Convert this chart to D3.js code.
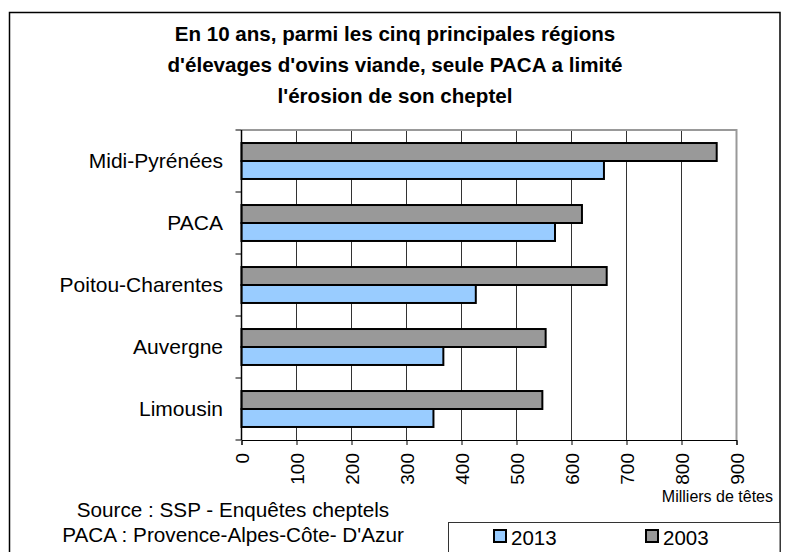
<!DOCTYPE html>
<html>
<head>
<meta charset="utf-8">
<script src="https://cdn.jsdelivr.net/npm/d3@7"></script>
<style>
  html, body { margin: 0; padding: 0; background: #fff; }
  svg { display: block; font-family: 'Liberation Sans', Arial, sans-serif; }
</style>
</head>
<body>
<div id="chart"></div>
<script>
// données (milliers de têtes)
const regions = ['Midi-Pyrénées', 'PACA', 'Poitou-Charentes', 'Auvergne', 'Limousin']
const years = ['2003', '2013']
const values2003 = [864, 619, 664, 553, 547]
const values2013 = [659, 570, 426, 367, 349]
const xTicks = [0, 100, 200, 300, 400, 500, 600, 700, 800, 900]
const titleLines = [
  'En 10 ans, parmi les cinq principales régions',
  "d'élevages d'ovins viande, seule PACA a limité",
  "l'érosion de son cheptel"
]
const sourceLines = ['Source : SSP - Enquêtes cheptels', "PACA : Provence-Alpes-Côte- D'Azur"]
const legendYears = ['2013', '2003']
const unitLabel = 'Milliers de têtes'

const colors = { '2003': '#999999', '2013': '#99ccff' }

const width = 787
const height = 552
const plot = { left: 241.5, right: 736.5, top: 130, bottom: 440 }

const svg = d3.select('#chart')
  .append('svg')
    .attr('width', width)
    .attr('height', height)

// cadre extérieur
svg.append('rect')
  .attr('x', 9.5)
  .attr('y', 12.5)
  .attr('width', 770.5)
  .attr('height', 560)
  .attr('fill', 'none')
  .attr('stroke', '#000')
  .attr('stroke-width', 1.5)

// titre
svg.append('g')
  .selectAll('text')
  .data(titleLines)
  .join('text')
    .attr('x', 395)
    .attr('y', (d, i) => 41 + i * 31)
    .attr('text-anchor', 'middle')
    .attr('font-size', 20.6)
    .attr('font-weight', 'bold')
    .attr('fill', '#000')
    .text(d => d)

// échelles
const x = d3.scaleLinear()
  .domain([0, 900])
  .range([plot.left, plot.right])

const y0 = d3.scaleBand()
  .domain(regions)
  .range([plot.top, plot.bottom])
  .paddingInner(0.42)
  .paddingOuter(0.21)

const y1 = d3.scaleBand()
  .domain(years)
  .range([0, y0.bandwidth()])

// lignes de quadrillage verticales
svg.append('g')
  .selectAll('line')
  .data(xTicks.slice(1, -1))
  .join('line')
    .attr('x1', d => x(d))
    .attr('x2', d => x(d))
    .attr('y1', plot.top)
    .attr('y2', plot.bottom)
    .attr('stroke', '#333')
    .attr('stroke-width', 1)

// bordure haut / droite de la zone de tracé
svg.append('path')
  .attr('d', `M${plot.left},${plot.top}H${plot.right}V${plot.bottom}`)
  .attr('fill', 'none')
  .attr('stroke', '#999')
  .attr('stroke-width', 2)

// barres
const rows = regions.map((r, i) => ({ region: r, '2003': values2003[i], '2013': values2013[i] }))
const groups = svg.append('g')
  .selectAll('g')
  .data(rows)
  .join('g')
    .attr('transform', d => `translate(0,${y0(d.region)})`)

groups.selectAll('rect')
  .data(d => years.map(k => ({ key: k, value: d[k] })))
  .join('rect')
    .attr('x', x(0))
    .attr('y', d => y1(d.key))
    .attr('width', d => x(d.value) - x(0))
    .attr('height', y1.bandwidth())
    .attr('fill', d => colors[d.key])
    .attr('stroke', '#000')
    .attr('stroke-width', 2)

// axe horizontal
const xAxis = d3.axisBottom(x)
  .tickValues(xTicks)
  .tickSize(5)
  .tickFormat(d3.format('d'))

const gx = svg.append('g')
  .attr('transform', `translate(0,${plot.bottom})`)
  .call(xAxis)
gx.select('.domain').attr('stroke', '#000')
gx.selectAll('.tick line').attr('stroke', '#000')
gx.selectAll('.tick text')
  .attr('font-size', 19)
  .attr('font-family', 'Liberation Sans, Arial, sans-serif')
  .attr('fill', '#000')
  .attr('text-anchor', 'end')
  .attr('transform', 'rotate(-90)')
  .attr('x', -13)
  .attr('y', 0)
  .attr('dy', '0.35em')

// axe vertical : repères entre les catégories
const gy = svg.append('g')
gy.append('line')
  .attr('x1', plot.left)
  .attr('x2', plot.left)
  .attr('y1', plot.top)
  .attr('y2', plot.bottom)
  .attr('stroke', '#000')
  .attr('stroke-width', 1.5)
gy.selectAll('.cat-tick')
  .data(d3.range(regions.length + 1))
  .join('line')
    .attr('class', 'cat-tick')
    .attr('x1', plot.left - 6)
    .attr('x2', plot.left)
    .attr('y1', i => plot.top + i * y0.step())
    .attr('y2', i => plot.top + i * y0.step())
    .attr('stroke', '#000')
gy.selectAll('.cat-label')
  .data(regions)
  .join('text')
    .attr('class', 'cat-label')
    .attr('x', 223)
    .attr('y', d => y0(d) + y0.bandwidth() / 2)
    .attr('dy', '0.33em')
    .attr('text-anchor', 'end')
    .attr('font-size', 21)
    .attr('fill', '#000')
    .text(d => d)

// unité
svg.append('text')
  .attr('x', 773)
  .attr('y', 502)
  .attr('text-anchor', 'end')
  .attr('font-size', 16)
  .text(unitLabel)

// source
svg.append('g')
  .selectAll('text')
  .data(sourceLines)
  .join('text')
    .attr('x', 233)
    .attr('y', (d, i) => 517 + i * 25)
    .attr('text-anchor', 'middle')
    .attr('font-size', 20.7)
    .text(d => d)

// légende
const legend = svg.append('g')
legend.append('rect')
  .attr('x', 448.5)
  .attr('y', 522.5)
  .attr('width', 331.5)
  .attr('height', 60)
  .attr('fill', '#fff')
  .attr('stroke', '#333')
  .attr('stroke-width', 1)
const legendItems = legend.selectAll('.item')
  .data(legendYears)
  .join('g')
    .attr('class', 'item')
    .attr('transform', (d, i) => `translate(${494 + i * 152},530)`)
legendItems.append('rect')
  .attr('width', 12)
  .attr('height', 12)
  .attr('fill', d => colors[d])
  .attr('stroke', '#000')
  .attr('stroke-width', 2)
legendItems.append('text')
  .attr('x', 17)
  .attr('y', 15)
  .attr('font-size', 20.5)
  .text(d => d)
</script>
</body>
</html>
